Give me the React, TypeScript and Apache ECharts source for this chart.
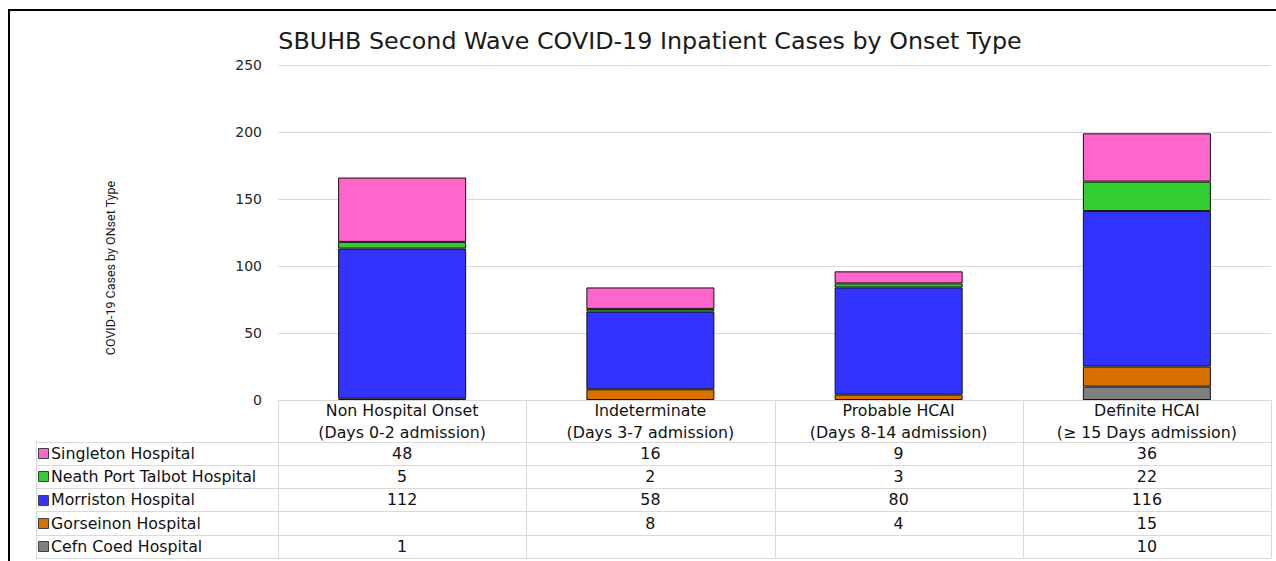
import React, { useEffect, useRef } from "react";
import * as echarts from "echarts";

const titleText = "SBUHB Second Wave COVID-19 Inpatient Cases by Onset Type";
const yAxisTitle = "COVID-19 Cases by ONset Type";
const categories = [
  "Non Hospital Onset\n(Days 0-2 admission)",
  "Indeterminate\n(Days 3-7 admission)",
  "Probable HCAI\n(Days 8-14 admission)",
  "Definite HCAI\n(≥ 15 Days admission)",
];
const seriesNames = [
  "Cefn Coed Hospital",
  "Gorseinon Hospital",
  "Morriston Hospital",
  "Neath Port Talbot Hospital",
  "Singleton Hospital",
];
const cefnCoed: (number | null)[] = [1, null, null, 10];
const gorseinon: (number | null)[] = [null, 8, 4, 15];
const morriston: (number | null)[] = [112, 58, 80, 116];
const neathPortTalbot: (number | null)[] = [5, 2, 3, 22];
const singleton: (number | null)[] = [48, 16, 9, 36];
const seriesValues = [cefnCoed, gorseinon, morriston, neathPortTalbot, singleton];
const seriesColors = ["#7F7F7F", "#D87000", "#3333FF", "#33CC33", "#FF66CC"];
const yMin = 0;
const yMax = 250;
const yInterval = 50;

const FONT = '"DejaVu Sans", sans-serif';
const GRID_LEFT = 278;
const GRID_RIGHT = 5;
const GRID_TOP = 65;
const GRID_BOTTOM = 161;
const TABLE_LEFT = 36;
const HEADER_H = 41.5;
const ROW_H = 23.3;
const BORDER = "#D9D9D9";
const TABLE_FONT_SIZE = 15.8;

export default function App() {
  const ref = useRef<HTMLDivElement>(null);
  useEffect(() => {
    if (!ref.current) return;
    const chart = echarts.init(ref.current, null, { renderer: "svg" });
    chart.setOption({
      animation: false,
      backgroundColor: "#FFFFFF",
      title: {
        text: titleText,
        left: 645,
        top: 36,
        textAlign: "center",
        textVerticalAlign: "middle",
        textStyle: { fontFamily: FONT, fontSize: 23.8, fontWeight: "normal", color: "#1A1A1A" },
      },
      grid: { left: GRID_LEFT, right: GRID_RIGHT, top: GRID_TOP, bottom: GRID_BOTTOM, containLabel: false },
      xAxis: {
        type: "category",
        data: categories,
        axisLine: { show: true, lineStyle: { color: BORDER, width: 1 } },
        axisTick: { show: false },
        axisLabel: { show: false },
        splitLine: { show: false },
      },
      yAxis: {
        type: "value",
        min: yMin,
        max: yMax,
        interval: yInterval,
        axisLine: { show: false },
        axisTick: { show: false },
        axisLabel: { fontFamily: FONT, fontSize: 14, color: "#262626", margin: 16 },
        splitLine: { lineStyle: { color: BORDER, width: 1 } },
      },
      series: seriesNames.map((name, i) => ({
        name,
        type: "bar",
        stack: "total",
        barWidth: 128,
        data: seriesValues[i],
        itemStyle: { color: seriesColors[i], borderColor: "#111111", borderWidth: 1 },
      })),
    });

    const centers = categories.map((_, i) => chart.convertToPixel({ xAxisIndex: 0 }, i) as number);
    const band = centers.length > 1 ? centers[1] - centers[0] : 993;
    const y0 = chart.convertToPixel({ yAxisIndex: 0 }, 0) as number;
    const headerBottom = y0 + HEADER_H;
    const rowOrder = [4, 3, 2, 1, 0];
    const tableBottom = headerBottom + ROW_H * rowOrder.length;
    const colEdges = [centers[0] - band / 2, ...centers.map((c) => c + band / 2)];
    const rightEdge = colEdges[colEdges.length - 1];
    const px = (v: number) => Math.round(v) + 0.5;

    const els: any[] = [];
    els.push({ type: "line", shape: { x1: 8, y1: 10, x2: 1276, y2: 10 }, style: { stroke: "#000", lineWidth: 2 } });
    els.push({ type: "line", shape: { x1: 9, y1: 9, x2: 9, y2: 561 }, style: { stroke: "#000", lineWidth: 2 } });
    els.push({
      type: "text",
      x: 110,
      y: 268,
      rotation: Math.PI / 2,
      style: {
        text: yAxisTitle,
        fontFamily: '"Liberation Sans Narrow", Roboto, sans-serif',
        fontSize: 12.5,
        fill: "#1A1A1A",
        align: "center",
        verticalAlign: "middle",
      },
    });
    for (let r = 0; r <= rowOrder.length; r++) {
      const y = px(headerBottom + r * ROW_H);
      els.push({ type: "line", shape: { x1: TABLE_LEFT, y1: y, x2: rightEdge, y2: y }, style: { stroke: BORDER, lineWidth: 1 } });
    }
    els.push({ type: "line", shape: { x1: px(TABLE_LEFT), y1: headerBottom, x2: px(TABLE_LEFT), y2: tableBottom }, style: { stroke: BORDER, lineWidth: 1 } });
    colEdges.forEach((x) => {
      els.push({ type: "line", shape: { x1: px(x), y1: y0, x2: px(x), y2: tableBottom }, style: { stroke: BORDER, lineWidth: 1 } });
    });
    categories.forEach((cat, i) => {
      els.push({
        type: "text",
        x: centers[i],
        y: y0 + HEADER_H / 2 + 0.5,
        style: { text: cat, fontFamily: FONT, fontSize: TABLE_FONT_SIZE, lineHeight: 22, fill: "#111", align: "center", verticalAlign: "middle" },
      });
    });
    rowOrder.forEach((si, r) => {
      const cy = headerBottom + r * ROW_H + ROW_H / 2;
      els.push({
        type: "rect",
        shape: { x: 38.5, y: Math.round(cy - 5) + 0.5, width: 10, height: 10 },
        style: { fill: seriesColors[si], stroke: "#404040", lineWidth: 1 },
      });
      els.push({
        type: "text",
        x: 51,
        y: cy,
        style: { text: seriesNames[si], fontFamily: FONT, fontSize: TABLE_FONT_SIZE, fill: "#111", align: "left", verticalAlign: "middle" },
      });
      seriesValues[si].forEach((v, ci) => {
        if (v === null || v === undefined) return;
        els.push({
          type: "text",
          x: centers[ci],
          y: cy,
          style: { text: String(v), fontFamily: FONT, fontSize: TABLE_FONT_SIZE, fill: "#111", align: "center", verticalAlign: "middle" },
        });
      });
    });
    chart.setOption({ graphic: { elements: els } });
    return () => chart.dispose();
  }, []);
  return <div ref={ref} style={{ position: "fixed", left: 0, top: 0, width: 1276, height: 561 }} />;
}
